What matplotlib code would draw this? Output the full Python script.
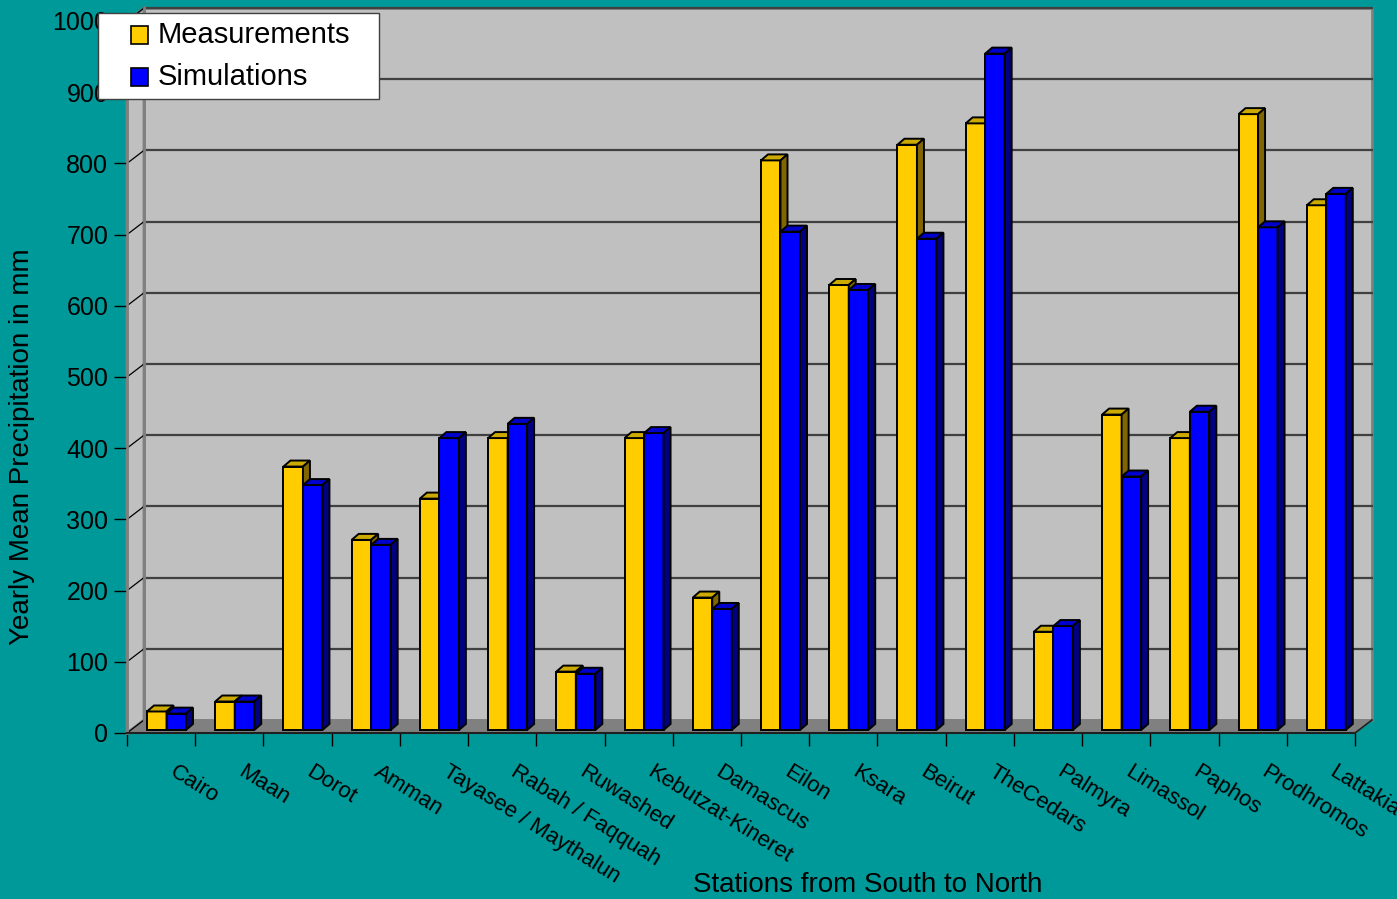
import numpy as np
import matplotlib
matplotlib.use("Agg")
import matplotlib.pyplot as plt
from matplotlib.patches import Polygon, Rectangle
from matplotlib.transforms import offset_copy

plt.rcParams['font.family'] = ['Liberation Sans', 'DejaVu Sans']

# data
stations = ["Cairo", "Maan", "Dorot", "Amman", "Tayasee / Maythalun",
            "Rabah / Faqquah", "Ruwashed", "Kebutzat-Kineret", "Damascus",
            "Eilon", "Ksara", "Beirut", "TheCedars", "Palmyra", "Limassol",
            "Paphos", "Prodhromos", "Lattakia"]
measurements = [26, 40, 370, 267, 325, 410, 82, 410, 186, 800, 625, 822,
                852, 138, 443, 410, 865, 737]
simulations = [23, 40, 344, 260, 410, 430, 79, 417, 170, 700, 618, 690,
               950, 146, 356, 447, 706, 753]
yticks = list(range(0, 1001, 100))

W, H = 1397, 899
bg = "#009999"
fig = plt.figure(figsize=(W / 100, H / 100), dpi=100, facecolor=bg)

# front plane of the pseudo 3d box
x0_px, x1_px, y0_px, y1_px = 127, 1355, 733, 21
ax = fig.add_axes([x0_px / W, 1 - y0_px / H, (x1_px - x0_px) / W, (y0_px - y1_px) / H])
n = len(stations)
ax.set_xlim(0, n)
ax.set_ylim(0, 1000)
ax.patch.set_visible(False)

PX_X = n / (x1_px - x0_px)
PX_Y = 1000 / (y0_px - y1_px)

# wall depth
bx, by = 17 * PX_X, 13 * PX_Y
wall = "#c0c0c0"
ax.add_patch(Polygon([(bx, by), (n + bx, by), (n + bx, 1000 + by), (bx, 1000 + by)],
                     closed=True, fc=wall, ec="#808080", lw=2, clip_on=False, zorder=0))
ax.add_patch(Polygon([(0, 0), (bx, by), (bx, 1000 + by), (0, 1000)],
                     closed=True, fc=wall, ec="#808080", lw=2, clip_on=False, zorder=0))
ax.add_patch(Polygon([(0, 0), (n, 0), (n + bx, by), (bx, by)],
                     closed=True, fc="#808080", ec="#808080", lw=1, clip_on=False, zorder=0.5))
for v in yticks[1:]:
    ax.plot([bx, n + bx], [v + by, v + by], color="#404040", lw=1.6, clip_on=False, zorder=0.6)
    ax.plot([0, bx], [v, v + by], color="black", lw=0.9, clip_on=False, zorder=0.6)
ax.plot([0, bx], [0, by], color="black", lw=0.9, clip_on=False, zorder=0.6)
ax.plot([bx, bx], [by, 1000 + by], color="#808080", lw=2, clip_on=False, zorder=0.7)

# bars
w = 19.5 * PX_X
off = 20 * PX_X
base = 3 * PX_Y
ddx, ddy = 7 * PX_X, 6 * PX_Y
series = [
    (measurements, "#ffcc00", "#ccaa00", "#806600", 0, 3),
    (simulations, "#0000ff", "#0000cc", "#000080", 1, 4),
]
for vals, front, top, side, k, z in series:
    xs = np.arange(n) + off + k * w
    ax.bar(xs, vals, width=w, bottom=base, align="edge", color=front,
           edgecolor="black", lw=1.4, zorder=z)
    for x, v in zip(xs, vals):
        t = base + v
        ax.add_patch(Polygon([(x, t), (x + w, t), (x + w + ddx, t + ddy), (x + ddx, t + ddy)],
                             closed=True, fc=top, ec="black", lw=1.4, zorder=z, clip_on=False))
        ax.add_patch(Polygon([(x + w, base), (x + w + ddx, base + ddy),
                              (x + w + ddx, t + ddy), (x + w, t)],
                             closed=True, fc=side, ec="black", lw=1.4, zorder=z, clip_on=False))

# axes
for s in ["top", "right"]:
    ax.spines[s].set_visible(False)
ax.spines["left"].set_color("#808080")
ax.spines["left"].set_linewidth(2)
ax.spines["bottom"].set_color("#202020")
ax.spines["bottom"].set_linewidth(1.5)
ax.plot([n, n + bx], [0, by], color="#202020", lw=1.2, clip_on=False)

ax.set_yticks(yticks)
ax.set_yticklabels([str(v) for v in yticks], fontsize=18)
ax.set_xticks(np.arange(n + 1))
ax.set_xticklabels([])
ax.tick_params(axis="y", length=9.5, width=1, color="black", pad=4)
ax.tick_params(axis="x", length=9.5, width=1, color="black")

lab_tr = offset_copy(ax.get_xaxis_transform(), fig=fig, x=0, y=-28, units="dots")
for i, name in enumerate(stations):
    ax.text(i + 0.5 + 16 * PX_X, 0, name, transform=lab_tr, rotation=-32,
            rotation_mode="anchor", ha="left", va="top", fontsize=16)

fig.text(868 / W, 1 - 885 / H, "Stations from South to North", fontsize=20,
         ha="center", va="center")
fig.text(22 / W, 1 - 447 / H, "Yearly Mean Precipitation in mm", fontsize=20,
         rotation=90, ha="center", va="center")

# legend box
fig.patches.append(Rectangle((98 / W, 1 - 99 / H), 281 / W, 86 / H, transform=fig.transFigure,
                             fc="white", ec="#404040", lw=1, zorder=5))
for lab, col, yc in [("Measurements", "#ffcc00", 35), ("Simulations", "#0000ff", 77)]:
    fig.patches.append(Rectangle((131 / W, 1 - (yc + 8.5) / H), 17 / W, 17 / H,
                                 transform=fig.transFigure, fc=col, ec="black", lw=1.2, zorder=6))
    fig.text(158 / W, 1 - yc / H, lab, fontsize=21, ha="left", va="center", zorder=6)

fig.savefig("out.png", dpi=100, facecolor=bg)
